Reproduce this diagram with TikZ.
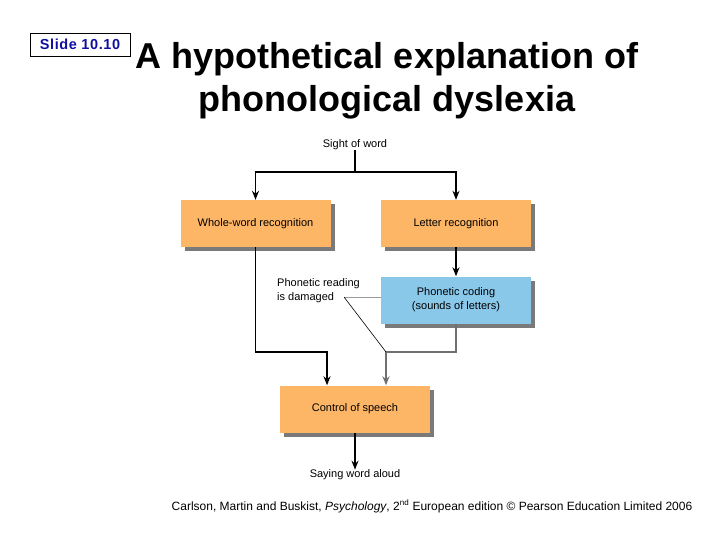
\documentclass[tikz,border=0pt]{standalone}
\usepackage{fontspec}
\setmainfont{Liberation Sans}
\usetikzlibrary{arrows.meta,positioning,shadows}
\definecolor{boxorange}{RGB}{253,182,102}
\definecolor{boxblue}{RGB}{138,200,234}
\definecolor{shadowgray}{RGB}{122,122,122}
\definecolor{slideblue}{RGB}{16,16,160}
\definecolor{damagedgray}{RGB}{112,112,112}

\begin{document}
\begin{tikzpicture}[x=1pt,y=-1pt,
  box/.style={rectangle,fill=boxorange,minimum width=150pt,minimum height=47pt,
    inner sep=0pt,align=center,font=\fontsize{11}{14}\selectfont,
    drop shadow={shadow xshift=4pt,shadow yshift=-4pt,fill=shadowgray,opacity=1}},
  bluebox/.style={box,fill=boxblue},
  note/.style={inner sep=0pt,font=\fontsize{11}{14}\selectfont},
  arrow/.style={-{Stealth[length=9pt,width=7pt]},line width=1.5pt,black},
  grayarrow/.style={-{Stealth[length=9pt,width=7pt]},line width=1.5pt,color=damagedgray},
  link/.style={line width=1.5pt,black},
  pointer/.style={line width=0.6pt}
]
\useasboundingbox (0,0) rectangle (720,540);

% header
\node[draw,line width=0.6pt,minimum width=100pt,minimum height=23pt,inner sep=0pt,
  font=\fontsize{14.5}{16}\selectfont\bfseries\addfontfeature{LetterSpace=4},text=slideblue]
  (slide) at (80,44.5) {Slide 10.10};
\node[font=\fontsize{36}{43}\selectfont\bfseries,align=center,anchor=base] (title) at (387,112)
  {A hypothetical explanation of\\phonological dyslexia};

% boxes
\node[note] (sight) at (355,145) {Sight of word};
\node[box] (whole)  at (255.5,223.5) {Whole-word recognition};
\node[box] (letter) at (456,223.5) {Letter recognition};
\node[bluebox] (phon) at (456,300) {Phonetic coding\\(sounds of letters)};
\node[box] (ctrl)   at (355,409) {Control of speech};
\node[note] (aloud) at (355,475) {Saying word aloud};
\node[note,align=left,anchor=north west] (dmg) at (277,278) {Phonetic reading\\is damaged};

\coordinate (split) at (355,172);
\coordinate (wturn) at (327,352);
\coordinate (pturn) at (386,352);
\coordinate (dmgpt) at (344,297);

% connectors
\draw[link] (sight) -- (split);
\draw[arrow] (split) -| (whole);
\draw[arrow] (split) -| (letter);
\draw[arrow] (letter) -- (phon);
\draw[arrow] (whole) |- (wturn) -- (wturn |- ctrl.north);
\draw[grayarrow] (phon) |- (pturn) -- (pturn |- ctrl.north);
\draw[arrow] (ctrl) -- (aloud);
\draw[pointer,color=damagedgray!70] (dmgpt) -- (dmgpt -| phon.west);
\draw[pointer] (dmgpt) -- (pturn);

% footer
\node[font=\fontsize{12}{14}\selectfont,anchor=base] (credit) at (432,510)
  {Carlson, Martin and Buskist, \textit{Psychology}, 2\textsuperscript{nd} European edition \textcopyright{} Pearson Education Limited 2006};
\end{tikzpicture}
\end{document}
